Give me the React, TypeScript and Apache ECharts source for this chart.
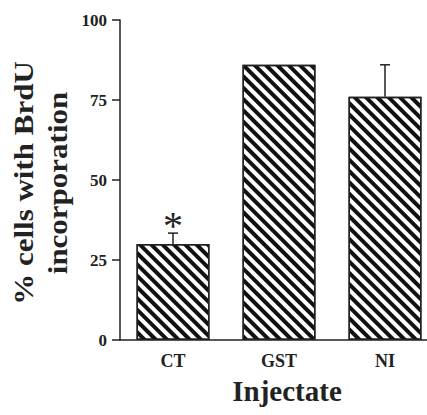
import React, { useEffect, useRef } from "react";
import * as echarts from "echarts";

const categories = ["CT", "GST", "NI"];
const values = [30, 86, 76];
const errorTops = [33.4, 86, 86];
const significance = ["*", "", ""];
const yTicks = { min: 0, max: 100, interval: 25 };
const yTitleLines = ["% cells with BrdU", "incorporation"];
const xTitle = "Injectate";

const FONT = "'Liberation Serif', 'Times New Roman', serif";
const INK = "#222";

export default function App() {
  const ref = useRef<HTMLDivElement>(null);
  useEffect(() => {
    if (!ref.current) return;
    const chart = echarts.init(ref.current, undefined, { renderer: "svg" });
    chart.setOption({
      animation: false,
      backgroundColor: "#fff",
      grid: {
        left: 120,
        top: 20,
        width: 318,
        height: 320,
        containLabel: false,
        outerBoundsMode: "none",
      },
      graphic: [
        {
          type: "text",
          x: 41,
          y: 183,
          rotation: Math.PI / 2,
          scaleY: 0.85,
          style: {
            text: yTitleLines.join("\n"),
            align: "center",
            verticalAlign: "middle",
            fontFamily: FONT,
            fontWeight: "bold",
            fontSize: 31,
            lineHeight: 40,
            fill: INK,
          },
        },
      ],
      xAxis: {
        type: "category",
        data: categories,
        name: xTitle,
        nameLocation: "middle",
        nameGap: 36,
        nameTextStyle: {
          fontFamily: FONT,
          fontWeight: "bold",
          fontSize: 29,
          color: INK,
          padding: [0, 0, 0, 16],
        },
        axisLine: { lineStyle: { color: INK, width: 1.5 } },
        axisTick: { alignWithLabel: true, length: 6, lineStyle: { color: INK, width: 1.5 } },
        axisLabel: {
          fontFamily: FONT,
          fontWeight: "bold",
          fontSize: 18,
          color: INK,
          margin: 12,
        },
      },
      yAxis: {
        type: "value",
        min: yTicks.min,
        max: yTicks.max,
        interval: yTicks.interval,
        splitLine: { show: false },
        axisLine: { show: true, lineStyle: { color: INK, width: 1.5 } },
        axisTick: { show: true, length: 8, lineStyle: { color: INK, width: 1.5 } },
        axisLabel: {
          fontFamily: FONT,
          fontWeight: "bold",
          fontSize: 17,
          color: INK,
          margin: 13,
        },
      },
      series: [
        {
          type: "bar",
          data: values,
          barWidth: 73,
          itemStyle: {
            color: "#fff",
            borderColor: INK,
            borderWidth: 1.5,
            decal: {
              symbol: "rect",
              symbolSize: 1,
              dashArrayX: [1, 0],
              dashArrayY: [4, 3.2],
              rotation: Math.PI / 4,
              color: "#111",
            },
          },
        },
        {
          type: "custom",
          data: categories.map((_, i) => [i, values[i], errorTops[i]]),
          renderItem: (params: any, api: any) => {
            const idx = api.value(0);
            const base = api.coord([idx, api.value(1)]);
            const top = api.coord([idx, api.value(2)]);
            const label = significance[params.dataIndex];
            const children: any[] = [];
            if (base[1] - top[1] > 1) {
              children.push({
                type: "line",
                shape: { x1: top[0], y1: base[1], x2: top[0], y2: top[1] },
                style: { stroke: INK, lineWidth: 1.5 },
              });
              children.push({
                type: "line",
                shape: { x1: top[0] - 5, y1: top[1], x2: top[0] + 5, y2: top[1] },
                style: { stroke: INK, lineWidth: 1.5 },
              });
            }
            if (label) {
              children.push({
                type: "text",
                style: {
                  text: label,
                  x: top[0],
                  y: top[1] + 12,
                  align: "center",
                  verticalAlign: "bottom",
                  fontFamily: FONT,
                  fontWeight: "normal",
                  fontSize: 40,
                  fill: INK,
                },
              });
            }
            return { type: "group", children };
          },
          z: 5,
        },
      ],
    });
    return () => chart.dispose();
  }, []);
  return (
    <div
      ref={ref}
      style={{ position: "fixed", left: 0, top: 0, width: 427, height: 415 }}
    />
  );
}
